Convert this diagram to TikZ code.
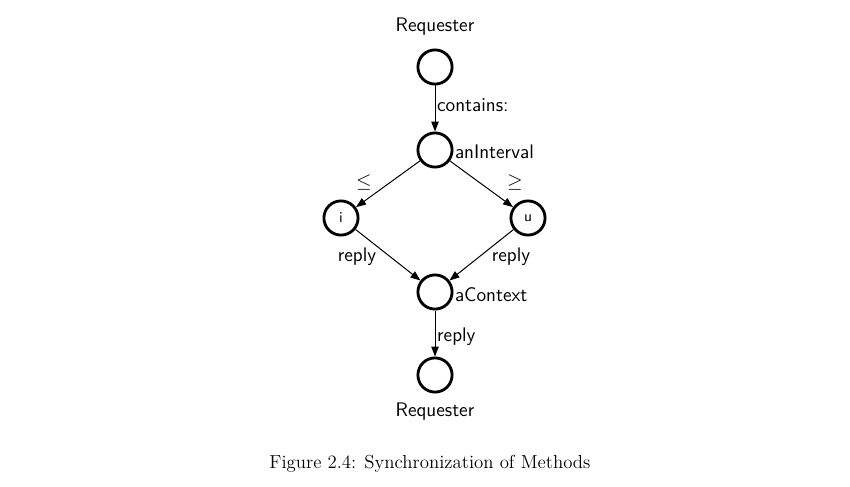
\documentclass[tikz,border=0pt]{standalone}
\usetikzlibrary{arrows.meta}
\begin{document}
\begin{tikzpicture}[x=0.6pt,y=-0.6pt,
  obj/.style={circle,draw,line width=1.7pt,minimum size=20.5pt,inner sep=0pt,font=\sffamily\small},
  lbl/.style={font=\sffamily\fontsize{11.8}{13}\selectfont,inner sep=1pt},
  conn/.style={line width=0.6pt,-{Triangle[length=6pt,width=4.5pt]}}]
\useasboundingbox (0,0) rectangle (850,487);
\node[obj] (req1) at (435,67) {};
\node[lbl] (reqlbl1) at (435,27) {Requester};
\node[obj] (intv) at (435,150) {};
\node[lbl,anchor=west] (intvlbl) at (453,152) {anInterval};
\node[obj] (low) at (341,218) {i};
\node[obj] (up) at (528,218) {u};
\node[obj] (ctx) at (435,292) {};
\node[lbl,anchor=west] (ctxlbl) at (453,295) {aContext};
\node[obj] (req2) at (435,375) {};
\node[lbl] (reqlbl2) at (435,412) {Requester};
\draw[conn] (req1) -- node[lbl,right,pos=0.42] (c1) {contains:} (intv);
\draw[conn] (intv) -- (low);
\draw[conn] (intv) -- (up);
\draw[conn] (low) -- (ctx);
\draw[conn] (up) -- (ctx);
\draw[conn] (ctx) -- node[lbl,right,pos=0.56] (c2) {reply} (req2);
\node[lbl] (le) at (364,182) {$\leq$};
\node[lbl] (ge) at (515,182) {$\geq$};
\node[lbl] (r1) at (357,257) {reply};
\node[lbl] (r2) at (511,257) {reply};
\node[font=\fontsize{11.3}{13}\selectfont] (cap) at (430,464) {Figure 2.4: Synchronization of Methods};
\end{tikzpicture}
\end{document}
